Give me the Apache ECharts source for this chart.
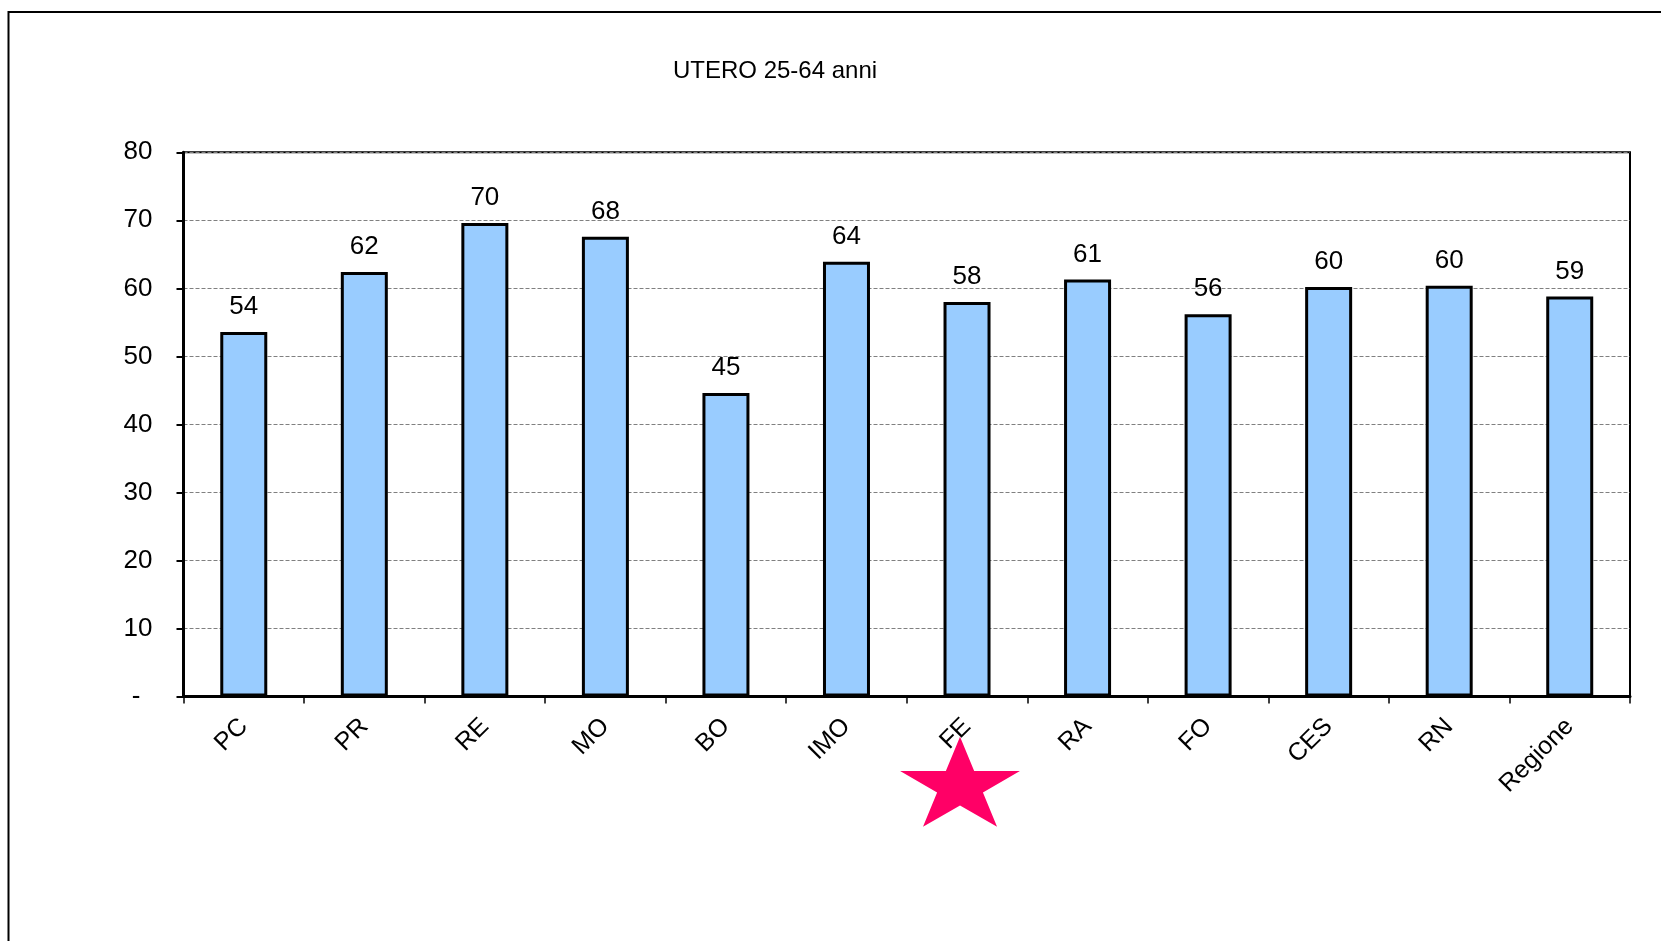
<!DOCTYPE html>
<html>
<head>
<meta charset="utf-8">
<script src="https://cdn.jsdelivr.net/npm/echarts@6/dist/echarts.min.js"></script>
<style>
  html, body { margin: 0; padding: 0; background: #fff; }
  #main { width: 1661px; height: 941px; }
</style>
</head>
<body>
<div id="main"></div>
<script>
// data
const chartTitle = 'UTERO 25-64 anni';
const categories = ['PC', 'PR', 'RE', 'MO', 'BO', 'IMO', 'FE', 'RA', 'FO', 'CES', 'RN', 'Regione'];
const values = [53.6, 62.4, 69.6, 67.6, 44.6, 63.9, 58.0, 61.3, 56.2, 60.2, 60.4, 58.8];
const yMin = 0;
const yMax = 80;
const yStep = 10;
const highlighted = 'FE';

const labelFont = "'Liberation Sans', Arial, sans-serif";

const chart = echarts.init(document.getElementById('main'));

let option = {
  animation: false,
  title: {
    text: chartTitle,
    left: 668,
    top: 54,
    textStyle: {
      fontFamily: labelFont,
      fontSize: 24,
      fontWeight: 'normal',
      color: '#000'
    }
  },
  grid: {
    left: 183.5,
    right: 31,
    top: 152.3,
    bottom: 244.5,
    show: true,
    borderColor: '#000',
    borderWidth: 2
  },
  xAxis: {
    type: 'category',
    data: categories,
    axisLine: {lineStyle: {color: '#000', width: 3}},
    axisTick: {show: true, length: 7, interval: 0, lineStyle: {color: '#000', width: 1.5}},
    axisLabel: {
      interval: 0,
      rotate: 45,
      margin: 26,
      fontSize: 25,
      fontFamily: labelFont,
      color: '#000'
    }
  },
  yAxis: {
    type: 'value',
    min: yMin,
    max: yMax,
    interval: yStep,
    axisLine: {show: true, lineStyle: {color: '#000', width: 3}},
    axisTick: {show: true, length: 7, lineStyle: {color: '#000', width: 2}},
    axisLabel: {
      margin: 31,
      fontSize: 26,
      fontFamily: labelFont,
      color: '#000',
      formatter: v => v === 0 ? '{z|-}' : String(v),
      rich: {
        z: {fontSize: 26, fontFamily: labelFont, color: '#000', padding: [0, 12, 0, 0]}
      }
    },
    splitLine: {
      lineStyle: {color: '#808080', width: 1, type: [4, 2]}
    }
  },
  series: [
    {
      type: 'bar',
      data: values,
      barWidth: 47,
      itemStyle: {
        color: '#99CCFF',
        borderColor: '#000',
        borderWidth: 3
      },
      label: {
        show: true,
        position: 'top',
        distance: 12,
        fontSize: 26,
        fontFamily: labelFont,
        color: '#000',
        formatter: p => Math.round(p.value)
      },
      emphasis: {disabled: true}
    }
  ]
};
chart.setOption(option);

// star under the highlighted category
function starPoints(cx, cy, R, r, sy) {
  const pts = [];
  for (let i = 0; i < 10; i++) {
    const a = Math.PI * i / 5;
    const rad = i % 2 === 0 ? R : r;
    pts.push([cx + rad * Math.sin(a), cy - rad * Math.cos(a) * sy]);
  }
  return pts;
}

const starX = chart.convertToPixel({xAxisIndex: 0}, highlighted) - 7;
const baseY = chart.convertToPixel({yAxisIndex: 0}, 0);

chart.setOption({
  graphic: [
    {
      type: 'rect',
      silent: true,
      z: -1,
      shape: {x: 8.5, y: 12, width: 1800, height: 1100},
      style: {fill: 'none', stroke: '#000', lineWidth: 2}
    },
    {
      type: 'polygon',
      silent: true,
      shape: {points: starPoints(starX, baseY + 90, 63, 24.1, 0.79)},
      style: {fill: '#FF0066'}
    }
  ]
});
</script>
</body>
</html>
